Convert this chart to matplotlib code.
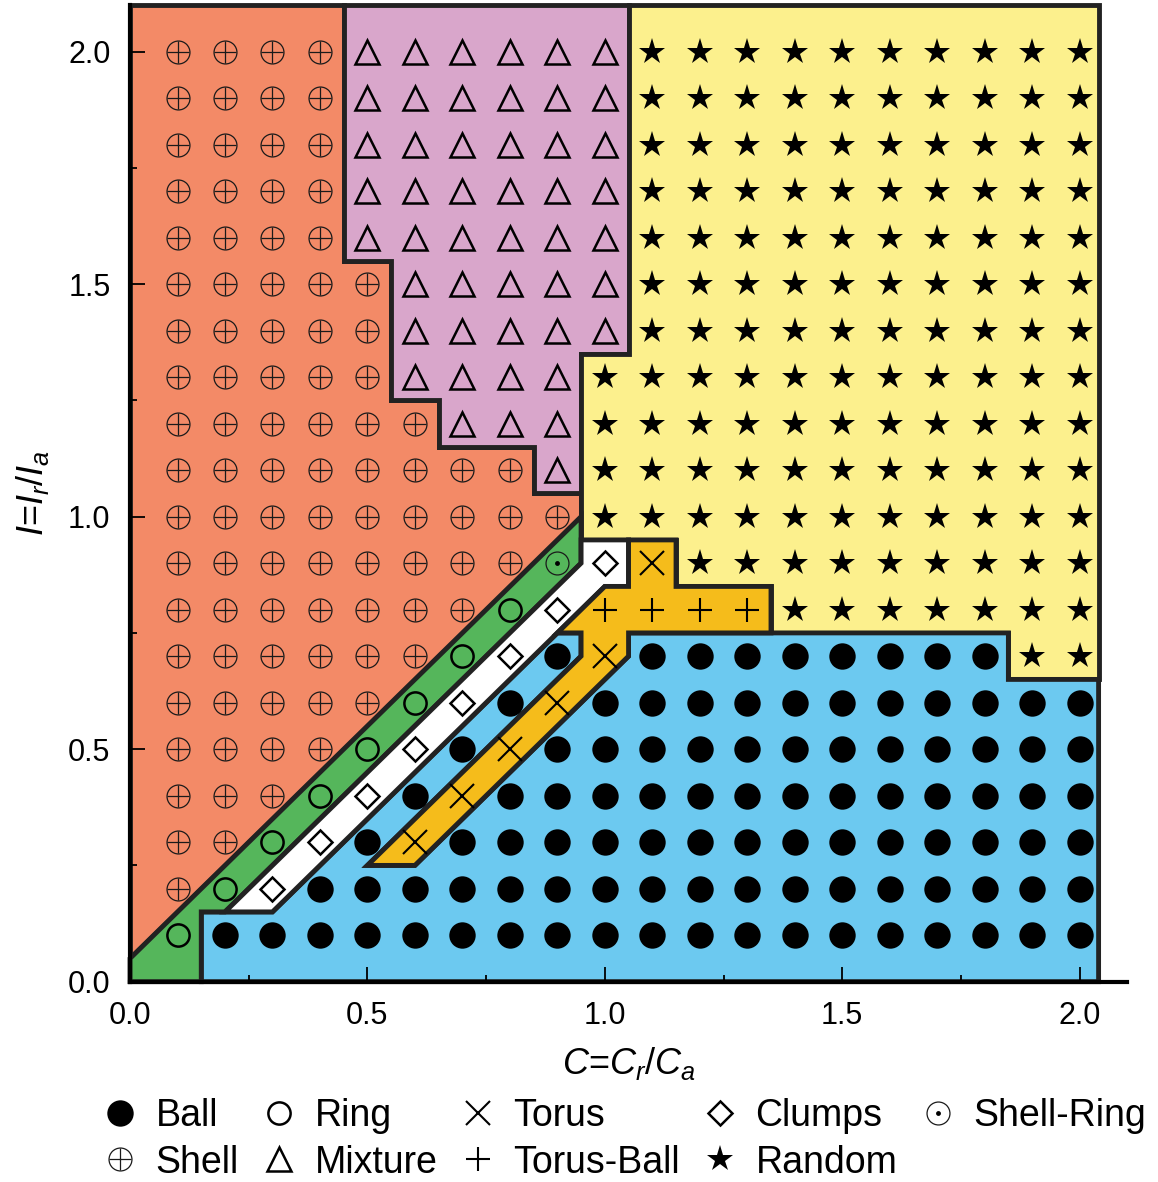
import matplotlib
matplotlib.use("Agg")
import matplotlib.pyplot as plt
from matplotlib.patches import Polygon
from matplotlib.lines import Line2D
from matplotlib.ticker import MultipleLocator, FormatStrFormatter

plt.rcParams['font.family'] = ['Liberation Sans', 'DejaVu Sans']
plt.rcParams['mathtext.fontset'] = 'custom'
plt.rcParams['mathtext.rm'] = 'Liberation Sans'
plt.rcParams['mathtext.it'] = 'Liberation Sans:italic'

# Sampled parameter grid
c_values = [round(0.1 * i, 1) for i in range(1, 21)]          # C = Cr/Ca
i_values = [round(0.1 * i, 1) for i in range(20, 0, -1)]      # I = Ir/Ia (top row first)

# Observed phase at each grid point, one string per row of i_values
# H Shell, M Mixture, R Random, Q Shell-Ring, O Ring, D Clumps,
# X Torus, P Torus-Ball, B Ball
phase_rows = [
    "HHHHMMMMMMRRRRRRRRRR",  # 2.0
    "HHHHMMMMMMRRRRRRRRRR",  # 1.9
    "HHHHMMMMMMRRRRRRRRRR",  # 1.8
    "HHHHMMMMMMRRRRRRRRRR",  # 1.7
    "HHHHMMMMMMRRRRRRRRRR",  # 1.6
    "HHHHHMMMMMRRRRRRRRRR",  # 1.5
    "HHHHHMMMMMRRRRRRRRRR",  # 1.4
    "HHHHHMMMMRRRRRRRRRRR",  # 1.3
    "HHHHHHMMMRRRRRRRRRRR",  # 1.2
    "HHHHHHHHMRRRRRRRRRRR",  # 1.1
    "HHHHHHHHHRRRRRRRRRRR",  # 1.0
    "HHHHHHHHQDXRRRRRRRRR",  # 0.9
    "HHHHHHHODPPPPRRRRRRR",  # 0.8
    "HHHHHHODBXBBBBBBBBRR",  # 0.7
    "HHHHHODBXBBBBBBBBBBB",  # 0.6
    "HHHHODBXBBBBBBBBBBBB",  # 0.5
    "HHHODBXBBBBBBBBBBBBB",  # 0.4
    "HHODBXBBBBBBBBBBBBBB",  # 0.3
    "HODBBBBBBBBBBBBBBBBB",  # 0.2
    "OBBBBBBBBBBBBBBBBBBB",  # 0.1
]

phase_names = {
    'B': 'Ball', 'O': 'Ring', 'X': 'Torus', 'D': 'Clumps', 'Q': 'Shell-Ring',
    'H': 'Shell', 'M': 'Mixture', 'P': 'Torus-Ball', 'R': 'Random',
}

# Phase boundaries (C, I)
shell_region = [(0, 0.05), (0, 2.1), (0.45, 2.1), (0.45, 1.55), (0.55, 1.55),
                (0.55, 1.25), (0.65, 1.25), (0.65, 1.15), (0.85, 1.15),
                (0.85, 1.05), (0.95, 1.05), (0.95, 1.0)]
mixture_region = [(0.45, 2.1), (1.05, 2.1), (1.05, 1.35), (0.95, 1.35),
                  (0.95, 1.05), (0.85, 1.05), (0.85, 1.15), (0.65, 1.15),
                  (0.65, 1.25), (0.55, 1.25), (0.55, 1.55), (0.45, 1.55)]
random_region = [(1.05, 2.1), (2.04, 2.1), (2.04, 0.65), (1.85, 0.65),
                 (1.85, 0.75), (1.35, 0.75), (1.35, 0.85), (1.15, 0.85),
                 (1.15, 0.95), (0.95, 0.95), (0.95, 1.35), (1.05, 1.35)]
ring_region = [(0, 0), (0.15, 0), (0.15, 0.15), (0.2, 0.15), (0.95, 0.9),
               (0.95, 1.0), (0, 0.05)]
clumps_region = [(0.2, 0.15), (0.95, 0.9), (0.95, 0.95), (1.05, 0.95),
                 (1.05, 0.85), (1.0, 0.85), (0.3, 0.15)]
torus_region = [(0.5, 0.25), (0.95, 0.7), (0.95, 0.75), (0.9, 0.75),
                (1.0, 0.85), (1.05, 0.85), (1.05, 0.95), (1.15, 0.95),
                (1.15, 0.85), (1.35, 0.85), (1.35, 0.75), (1.05, 0.75),
                (1.05, 0.7), (0.6, 0.25)]
ball_region = [(0.15, 0), (2.04, 0), (2.04, 0.65), (1.85, 0.65), (1.85, 0.75),
               (1.05, 0.75), (1.05, 0.7), (0.6, 0.25), (0.5, 0.25),
               (0.95, 0.7), (0.95, 0.75), (0.9, 0.75), (0.3, 0.15),
               (0.15, 0.15)]

regions = [
    (shell_region, '#F38A67'),
    (mixture_region, '#D9A6CB'),
    (random_region, '#FCF08D'),
    (ball_region, '#6CC9F0'),
    (ring_region, '#55B65B'),
    (clumps_region, '#FFFFFF'),
    (torus_region, '#F5BC1B'),
]

INK = 'black'
thin = 0.9
marker_styles = {
    'B': [dict(marker='o', ms=19, mfc=INK, mec=INK, mew=0)],
    'O': [dict(marker='o', ms=16, mfc='none', mec=INK, mew=1.8)],
    'X': [dict(marker='x', ms=17, mec=INK, mew=1.5)],
    'D': [dict(marker='D', ms=12.5, mfc='white', mec=INK, mew=1.8)],
    'Q': [dict(marker='o', ms=16.5, mfc='none', mec='#1a1a1a', mew=thin),
          dict(marker='o', ms=3.5, mfc=INK, mec=INK, mew=0)],
    'H': [dict(marker='o', ms=16.5, mfc='none', mec='#1a1a1a', mew=thin),
          dict(marker='+', ms=16.5, mec='#1a1a1a', mew=thin)],
    'M': [dict(marker='^', ms=17.5, mfc='none', mec=INK, mew=1.8)],
    'P': [dict(marker='+', ms=17, mec=INK, mew=1.5)],
    'R': [dict(marker='*', ms=20, mfc=INK, mec=INK, mew=0)],
}

fig = plt.figure(figsize=(11.58, 11.82), dpi=100)
ax = fig.add_axes([0.1123, 0.1695, 0.8610, 0.8261])

for verts, color in regions:
    ax.add_patch(Polygon(verts, closed=True, facecolor=color,
                         edgecolor='#222222', linewidth=3.5,
                         joinstyle='miter', clip_on=False, zorder=1))

# Group grid points by phase
points = {k: ([], []) for k in phase_names}
for row, ival in zip(phase_rows, i_values):
    for code, cval in zip(row, c_values):
        points[code][0].append(cval)
        points[code][1].append(ival)

for code, (xs, ys) in points.items():
    for st in marker_styles[code]:
        ax.plot(xs, ys, linestyle='none', zorder=3, clip_on=False, **st)

ax.set_xlim(0, 2.1)
ax.set_ylim(0, 2.1)
ax.spines['top'].set_visible(False)
ax.spines['right'].set_visible(False)
for side in ('left', 'bottom'):
    ax.spines[side].set_linewidth(3.0)
ax.xaxis.set_major_locator(MultipleLocator(0.5))
ax.xaxis.set_minor_locator(MultipleLocator(0.25))
ax.yaxis.set_major_locator(MultipleLocator(0.5))
ax.yaxis.set_minor_locator(MultipleLocator(0.25))
ax.xaxis.set_major_formatter(FormatStrFormatter('%.1f'))
ax.yaxis.set_major_formatter(FormatStrFormatter('%.1f'))
ax.tick_params(which='major', direction='in', length=11, width=1.3,
               labelsize=22, pad=14)
ax.tick_params(which='minor', direction='in', length=5, width=1.3)

ax.set_xlabel(r'$C$=$C_r$/$C_a$', fontsize=26, labelpad=10)
ax.set_ylabel(r'$I$=$I_r$/$I_a$', fontsize=26, labelpad=12)

# Legend: column-major order yields two rows
legend_order = ['B', 'H', 'O', 'M', 'X', 'P', 'D', 'R', 'Q']
handles, labels = [], []
for code in legend_order:
    parts = [Line2D([], [], linestyle='none', **st) for st in marker_styles[code]]
    handles.append(parts[0] if len(parts) == 1 else tuple(parts))
    labels.append(phase_names[code])

fig.legend(handles, labels, ncol=5, loc='upper left',
           bbox_to_anchor=(0.089, 0.071), frameon=False, fontsize=27,
           handlelength=0.9, handletextpad=0.5, columnspacing=0.62,
           labelspacing=0.28, borderpad=0, borderaxespad=0)

fig.savefig('out.png', dpi=100)
